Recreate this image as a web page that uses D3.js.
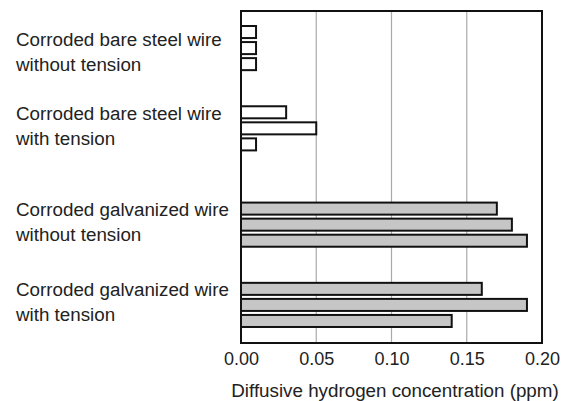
<!DOCTYPE html>
<html><head><meta charset="utf-8">
<script src="https://cdn.jsdelivr.net/npm/d3@7"></script>
<style>body{margin:0;background:#fff}svg{display:block}text{font-family:"Liberation Sans",Arial,sans-serif;fill:#222}</style>
</head><body><svg id="c" width="570" height="401"></svg>
<script>
const groupLabels = [
  ["Corroded bare steel wire", "without tension"],
  ["Corroded bare steel wire", "with tension"],
  ["Corroded galvanized wire", "without tension"],
  ["Corroded galvanized wire", "with tension"]
];
const bareNoTension = [0.01, 0.01, 0.01];
const bareTension = [0.03, 0.05, 0.01];
const galvNoTension = [0.17, 0.18, 0.19];
const galvTension = [0.16, 0.19, 0.14];
const galvanized = [false, false, true, true];
const xTicks = [0, 0.05, 0.10, 0.15, 0.20];
const xTitle = "Diffusive hydrogen concentration (ppm)";

const series = [bareNoTension, bareTension, galvNoTension, galvTension];
const groupStart = [0, 5, 11, 16];
const labelShift = [-2, -8, -9, -9];

const svg = d3.select("#c");
const L = 241, R = 542, T = 11, B = 343;
const x = d3.scaleLinear().domain([0, 0.2]).range([L, R]);
const y = d3.scaleBand().domain(d3.range(19)).range([22, 331]).padding(0.25);

// gridlines
svg.append("g").selectAll("line").data(xTicks.slice(1, -1)).join("line")
  .attr("x1", d => x(d)).attr("x2", d => x(d)).attr("y1", T).attr("y2", B)
  .attr("stroke", "#aaa").attr("stroke-width", 1.2);

// bars
const bars = [];
series.forEach((vals, g) => vals.forEach((v, i) => bars.push({g, slot: groupStart[g] + i, v})));
svg.append("g").selectAll("rect").data(bars).join("rect")
  .attr("x", x(0)).attr("y", d => y(d.slot))
  .attr("width", d => x(d.v) - x(0)).attr("height", y.bandwidth())
  .attr("fill", d => galvanized[d.g] ? "#c6c6c6" : "#fff")
  .attr("stroke", "#111").attr("stroke-width", 2);

// frame
svg.append("rect").attr("x", L).attr("y", T).attr("width", R - L).attr("height", B - T)
  .attr("fill", "none").attr("stroke", "#111").attr("stroke-width", 2);

// x axis
const ax = svg.append("g").attr("transform", `translate(0,${B})`)
  .call(d3.axisBottom(x).tickValues(xTicks).tickFormat(d3.format(".2f")).tickSize(0).tickPadding(0));
ax.select(".domain").remove();
ax.selectAll("text").attr("dy", null).attr("y", 22).attr("font-size", 18).style("font-family", null);

svg.append("text").attr("x", 395).attr("y", 397).attr("text-anchor", "middle")
  .attr("font-size", 18.8).text(xTitle);

// category labels
groupLabels.forEach((lines, g) => {
  const c = (y(groupStart[g]) + y(groupStart[g] + 2) + y.bandwidth()) / 2;
  const t = svg.append("text").attr("x", 16).attr("font-size", 18.8);
  lines.forEach((ln, k) => t.append("tspan").attr("x", 16).attr("y", c + labelShift[g] + k * 25).text(ln));
});
</script></body></html>
